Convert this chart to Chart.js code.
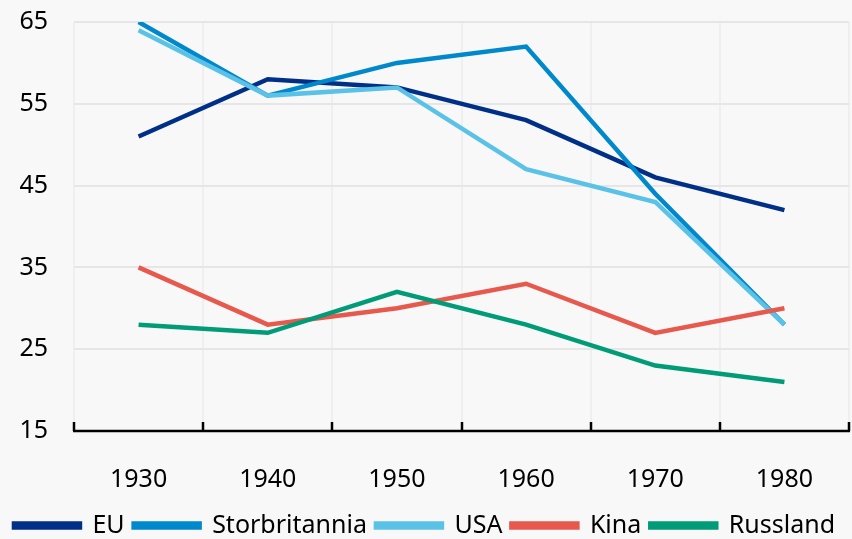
<!DOCTYPE html>
<html>
<head>
<meta charset="utf-8">
<script src="https://cdn.jsdelivr.net/npm/chart.js@4"></script>
<style>
  html, body { margin: 0; padding: 0; background: #f8f8f8; }
  #wrap { width: 852px; height: 539px; }
</style>
</head>
<body>
<div id="wrap"><canvas id="chart"></canvas></div>
<script>
const years = ["1930", "1940", "1950", "1960", "1970", "1980"];
const eu = [51, 58, 57, 53, 46, 42];
const storbritannia = [65, 56, 60, 62, 44, 28];
const usa = [64, 56, 57, 47, 43, 28];
const kina = [35, 28, 30, 33, 27, 30];
const russland = [28, 27, 32, 28, 23, 21];

const font = "'Noto Sans', 'Open Sans', sans-serif";

// black axis line with small inward ticks at category boundaries
const axisTicks = {
  id: "axisTicks",
  afterLayout(chart) {
    // nudge the legend a little closer to the bottom edge
    if (chart.legend) {
      chart.legend.top += 9;
      chart.legend.bottom += 9;
    }
  },
  afterDraw(chart) {
    const { ctx, chartArea } = chart;
    const n = years.length;
    const step = (chartArea.right - chartArea.left) / n;
    ctx.save();
    ctx.strokeStyle = "#000";
    ctx.lineWidth = 2.5;
    ctx.beginPath();
    ctx.moveTo(chartArea.left - 1, chartArea.bottom);
    ctx.lineTo(chartArea.right + 1, chartArea.bottom);
    for (let i = 0; i <= n; i++) {
      const px = Math.round(chartArea.left + i * step);
      ctx.moveTo(px, chartArea.bottom);
      ctx.lineTo(px, chartArea.bottom - 9);
    }
    ctx.stroke();
    ctx.restore();
  }
};

function series(label, data, color, order) {
  return {
    label, data,
    borderColor: color,
    backgroundColor: color,
    borderWidth: 4.5,
    pointRadius: 0,
    tension: 0,
    order
  };
}

new Chart(document.getElementById("chart"), {
  type: "line",
  data: {
    labels: years,
    datasets: [
      series("EU", eu, "#002f87", 5),
      series("Storbritannia", storbritannia, "#0088cc", 4),
      series("USA", usa, "#5bc2e7", 3),
      series("Kina", kina, "#e8594d", 2),
      series("Russland", russland, "#009b77", 1)
    ]
  },
  options: {
    responsive: true,
    maintainAspectRatio: false,
    animation: false,
    layout: { padding: { top: 22, right: 3, left: 0, bottom: 0 } },
    scales: {
      x: {
        offset: true,
        grid: { offset: true, color: "#efefef", lineWidth: 2, drawTicks: false },
        border: { display: false },
        ticks: { color: "#000", font: { family: font, size: 25 }, padding: 34 },
        afterFit(scale) { scale.height = 64; }
      },
      y: {
        min: 15,
        max: 65,
        ticks: { stepSize: 10, color: "#000", font: { family: font, size: 25 }, padding: 26 },
        grid: { color: "#e6e6e6", lineWidth: 2, drawTicks: false },
        border: { display: false },
        afterFit(scale) { scale.width = 74; scale.paddingTop = 0; scale.paddingBottom = 0; }
      }
    },
    plugins: {
      legend: {
        position: "bottom",
        labels: {
          color: "#000",
          font: { family: font, size: 25 },
          boxWidth: 66,
          boxHeight: 4,
          padding: 9,
          sort: (a, b) => a.datasetIndex - b.datasetIndex
        }
      },
      tooltip: { enabled: false }
    }
  },
  plugins: [axisTicks]
});
</script>
</body>
</html>
